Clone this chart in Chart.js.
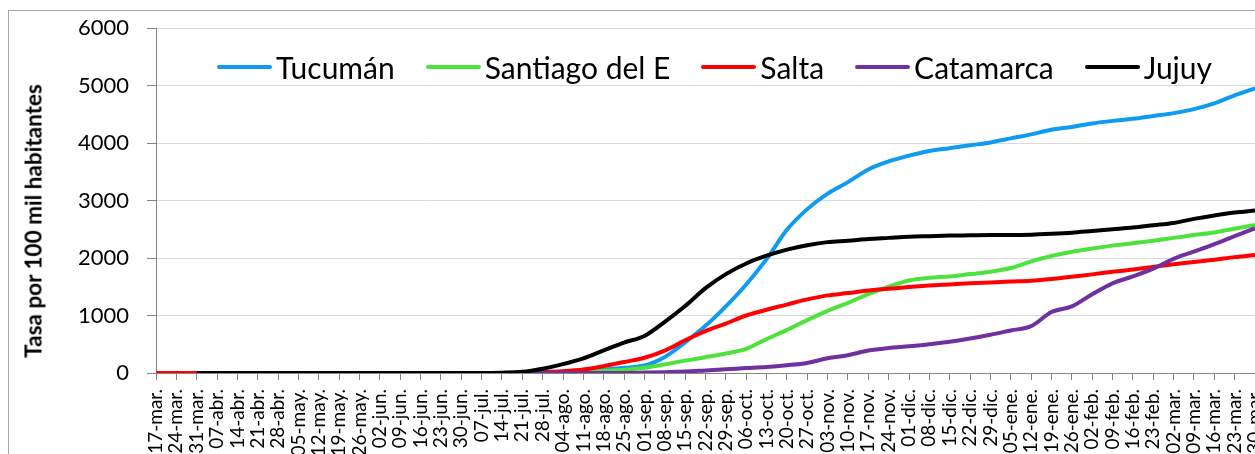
<!DOCTYPE html>
<html>
<head>
<meta charset="utf-8">
<script src="https://cdn.jsdelivr.net/npm/chart.js@4.4.1/dist/chart.umd.min.js"></script>
<style>
  html, body { margin: 0; padding: 0; background: #fff; }
  body { width: 1255px; height: 454px; overflow: hidden; position: relative; font-family: Lato, sans-serif; }
  #frame { position: absolute; left: 8px; top: 10px; width: 1300px; height: 500px; border: 1px solid #a6a6a6; }
  #chart { position: absolute; left: 0; top: 0; }
  #ytitle {
    position: absolute; left: 33px; top: 221px; white-space: nowrap;
    font: bold 22.5px Lato, sans-serif; color: #000;
    transform: translate(-50%, -50%) rotate(-90deg);
  }
  #legend { position: absolute; left: 217px; top: 49px; display: flex; align-items: center; gap: 31px; }
  .leg-item { display: flex; align-items: center; font: 30px Lato, sans-serif; color: #000; line-height: 36px; }
  .leg-line { width: 55px; height: 4px; border-radius: 2px; margin-right: 4px; }
</style>
</head>
<body>
<div id="frame"></div>
<canvas id="chart" width="1280" height="500"></canvas>
<div id="ytitle">Tasa por 100 mil habitantes</div>
<div id="legend"></div>
<script>
// weekly ticks, 17-mar-2020 .. 30-mar-2021
const weekLabels = [
  "17-mar.", "24-mar.", "31-mar.", "07-abr.", "14-abr.", "21-abr.", "28-abr.",
  "05-may.", "12-may.", "19-may.", "26-may.", "02-jun.", "09-jun.", "16-jun.",
  "23-jun.", "30-jun.", "07-jul.", "14-jul.", "21-jul.", "28-jul.", "04-ago.",
  "11-ago.", "18-ago.", "25-ago.", "01-sep.", "08-sep.", "15-sep.", "22-sep.",
  "29-sep.", "06-oct.", "13-oct.", "20-oct.", "27-oct.", "03-nov.", "10-nov.",
  "17-nov.", "24-nov.", "01-dic.", "08-dic.", "15-dic.", "22-dic.", "29-dic.",
  "05-ene.", "12-ene.", "19-ene.", "26-ene.", "02-feb.", "09-feb.", "16-feb.",
  "23-feb.", "02-mar.", "09-mar.", "16-mar.", "23-mar.", "30-mar."
];

const tucuman = [
  0, 0, 0, 0, 0, 0, 0, 0, 0, 0, 0, 0, 0, 0, 0, 0, 0, 0, 0,
  10, 20, 40, 60, 90, 130, 280, 530, 820, 1160, 1540, 1980, 2490, 2850, 3120, 3320,
  3540, 3680, 3780, 3860, 3910, 3960, 4010, 4080, 4150, 4230, 4280, 4340, 4385, 4420,
  4470, 4520, 4590, 4690, 4830, 4950
];
const santiago = [
  0, 0, 0, 0, 0, 0, 0, 0, 0, 0, 0, 0, 0, 0, 0, 0, 0, 0, 0,
  5, 10, 20, 35, 55, 90, 150, 215, 275, 340, 420, 590, 750, 920, 1080, 1220,
  1370, 1500, 1610, 1655, 1680, 1720, 1760, 1825, 1940, 2035, 2110, 2165, 2215, 2255,
  2300, 2350, 2400, 2445, 2510, 2574
];
const salta = [
  0, 0, 0, 0, 0, 0, 0, 0, 0, 0, 0, 0, 0, 0, 0, 0, 0, 0,
  5, 15, 30, 60, 120, 190, 265, 390, 570, 730, 860, 1000, 1100, 1190, 1280, 1350,
  1390, 1435, 1465, 1495, 1520, 1540, 1560, 1575, 1590, 1605, 1635, 1675, 1715, 1760,
  1800, 1845, 1890, 1930, 1970, 2015, 2052
];
const catamarca = [
  null, null, null, null, null, null, null, null, null, null, null, null, null, null, null, null,
  0, 0, 0, 0, 0, 0, 0, 2, 8, 15, 25, 45, 65, 85, 105, 135, 175, 255, 310,
  390, 435, 465, 500, 545, 600, 665, 740, 815, 1060, 1160, 1370, 1560, 1680,
  1815, 1985, 2110, 2240, 2380, 2516
];
const jujuy = [
  null, null, 0, 0, 0, 0, 0, 0, 0, 0, 0, 0, 0, 0, 0, 0, 0,
  5, 20, 75, 155, 255, 395, 530, 645, 890, 1165, 1475, 1720, 1905, 2040, 2146, 2222,
  2276, 2300, 2330, 2350, 2370, 2380, 2390, 2395, 2400, 2400, 2405, 2420, 2440, 2470,
  2500, 2530, 2570, 2610, 2680, 2740, 2790, 2825
];

const seriesNames = ["Tucumán", "Santiago del E", "Salta", "Catamarca", "Jujuy"];
const seriesColors = ["#0f9bf2", "#4ee23c", "#ff0000", "#7030a0", "#000000"];
const seriesData = [tucuman, santiago, salta, catamarca, jujuy];

const yTicks = [0, 1000, 2000, 3000, 4000, 5000, 6000];

const AXIS = "#868686";
const GRID = "#d9d9d9";

Chart.defaults.font.family = "Lato, sans-serif";
Chart.defaults.color = "#000";

const datasets = seriesNames.map((name, i) => ({
  label: name,
  data: seriesData[i],
  borderColor: seriesColors[i],
  backgroundColor: seriesColors[i],
  borderWidth: 4,
  pointRadius: 0,
  pointHoverRadius: 0,
  cubicInterpolationMode: "monotone",
  fill: false,
  // later series sit on top, like the original
  order: seriesNames.length - 1 - i,
}));

new Chart(document.getElementById("chart"), {
  type: "line",
  data: { labels: weekLabels, datasets },
  options: {
    responsive: false,
    devicePixelRatio: 1,
    animation: false,
    layout: { padding: { left: 0, top: 28, right: 25, bottom: 0 } },
    plugins: { legend: { display: false }, tooltip: { enabled: false } },
    scales: {
      x: {
        type: "category",
        offset: false,
        border: { color: AXIS, width: 1 },
        grid: { drawOnChartArea: false, drawTicks: true, tickLength: 7, tickColor: AXIS },
        ticks: {
          autoSkip: false,
          maxRotation: 90,
          minRotation: 90,
          padding: 9,
          font: { size: 19 },
          color: "#000",
        },
        // fixed height; the last label may run past the window like the original
        afterFit: (s) => { s.height = 127; s.paddingLeft = 0; s.paddingRight = 0; },
      },
      y: {
        min: 0,
        max: 6000,
        afterBuildTicks: (s) => { s.ticks = yTicks.map((v) => ({ value: v })); },
        border: { color: AXIS, width: 1 },
        grid: { color: GRID, lineWidth: 1, tickLength: 9, tickColor: AXIS },
        ticks: {
          padding: 18,
          font: { size: 22 },
          color: "#000",
          callback: (v) => String(v),
        },
        afterFit: (s) => { s.width = 156; s.paddingTop = 0; s.paddingBottom = 0; },
      },
    },
  },
});

// legend drawn as html so it can sit inside the plot area
document.getElementById("legend").innerHTML = seriesNames
  .map(
    (name, i) =>
      `<div class="leg-item"><span class="leg-line" style="background:${seriesColors[i]}"></span>${name}</div>`,
  )
  .join("");
</script>
</body>
</html>
